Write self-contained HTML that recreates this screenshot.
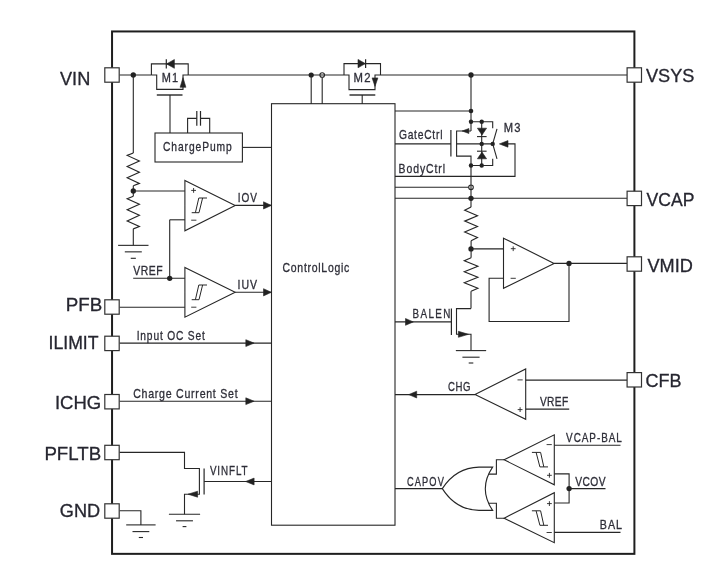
<!DOCTYPE html>
<html><head><meta charset="utf-8"><style>
html,body{margin:0;padding:0;background:#fff;}
body{width:708px;height:572px;overflow:hidden;}
svg{display:block;font-family:"Liberation Sans",sans-serif;will-change:transform;}
</style></head><body>
<svg width="708" height="572" viewBox="0 0 708 572">
<rect x="112.05" y="31.45" width="522.35" height="522.4" fill="none" stroke="#1e1e1e" stroke-width="2"/>
<path d="M119.50,75.00 L151.40,75.00" stroke="#262626" stroke-width="1.1" fill="none"/>
<circle cx="133.3" cy="75" r="2.65" fill="#222"/>
<path d="M133.30,75.00 L133.30,153.00" stroke="#262626" stroke-width="1.1" fill="none"/>
<path d="M133.30,153.00 L127.20,155.40 L139.40,161.00 L127.20,166.60 L139.40,172.20 L127.20,177.80 L139.40,183.40 L133.30,185.80" stroke="#262626" stroke-width="1.15" fill="none"/>
<path d="M133.30,185.80 L133.30,196.30" stroke="#262626" stroke-width="1.1" fill="none"/>
<path d="M133.30,196.30 L127.20,198.70 L139.40,204.25 L127.20,209.80 L139.40,215.35 L127.20,220.90 L139.40,226.45 L133.30,228.85" stroke="#262626" stroke-width="1.15" fill="none"/>
<path d="M133.30,228.85 L133.30,245.35" stroke="#262626" stroke-width="1.1" fill="none"/>
<circle cx="133.3" cy="191" r="2.65" fill="#222"/>
<path d="M118.10,245.35 L148.50,245.35" stroke="#262626" stroke-width="1.1" fill="none"/>
<path d="M124.80,251.85 L141.80,251.85" stroke="#262626" stroke-width="1.1" fill="none"/>
<path d="M130.75,258.30 L135.85,258.30" stroke="#262626" stroke-width="1.1" fill="none"/>
<path d="M151.40,75.00 L151.40,63.90 L188.20,63.90 L188.20,75.00" stroke="#262626" stroke-width="1.1" fill="none"/>
<path d="M151.40,75.00 L156.70,75.00 L156.70,89.40 L183.00,89.40 L183.00,75.00 L188.20,75.00" stroke="#262626" stroke-width="1.1" fill="none"/>
<path d="M183.00,77.60 L180.10,87.30 L185.90,87.30Z" stroke="#262626" stroke-width="0.6" fill="#222" stroke-linejoin="miter"/>
<path d="M156.80,95.00 L182.50,95.00" stroke="#262626" stroke-width="1.4" fill="none"/>
<path d="M170.00,95.00 L170.00,133.00" stroke="#262626" stroke-width="1.1" fill="none"/>
<path d="M166.60,63.90 L174.40,59.50 L174.40,68.30Z" stroke="#262626" stroke-width="0.6" fill="#222" stroke-linejoin="miter"/>
<path d="M166.30,59.20 L166.30,68.60" stroke="#262626" stroke-width="1.2" fill="none"/>
<text transform="scale(0.899,1)" x="179.98" y="81.70" font-size="12.2" textLength="18.18" lengthAdjust="spacing" fill="#2e2e38" stroke="#2e2e38" stroke-width="0.3">M1</text>
<path d="M188.20,75.00 L344.00,75.00" stroke="#262626" stroke-width="1.1" fill="none"/>
<circle cx="311.2" cy="75" r="2.6" fill="#222"/>
<circle cx="322.2" cy="75" r="2.3" fill="none" stroke="#262626" stroke-width="1.1"/>
<path d="M311.20,75.00 L311.20,104.00" stroke="#262626" stroke-width="1.1" fill="none"/>
<path d="M322.20,77.30 L322.20,104.00" stroke="#262626" stroke-width="1.1" fill="none"/>
<rect x="155" y="133" width="87.4" height="29" fill="none" stroke="#262626" stroke-width="1.1"/>
<path d="M187.60,133.00 L187.60,118.40 L196.80,118.40" stroke="#262626" stroke-width="1.1" fill="none"/>
<path d="M196.80,111.00 L196.80,125.70" stroke="#262626" stroke-width="1.2" fill="none"/>
<path d="M200.50,111.00 L200.50,125.70" stroke="#262626" stroke-width="1.2" fill="none"/>
<path d="M200.50,118.40 L209.70,118.40 L209.70,133.00" stroke="#262626" stroke-width="1.1" fill="none"/>
<path d="M242.40,147.40 L271.50,147.40" stroke="#262626" stroke-width="1.1" fill="none"/>
<text transform="scale(0.842,1)" x="193.47" y="150.90" font-size="12.2" textLength="81.78" lengthAdjust="spacing" fill="#2e2e38" stroke="#2e2e38" stroke-width="0.3">ChargePump</text>
<rect x="271.5" y="103.7" width="123.5" height="421.5" fill="none" stroke="#262626" stroke-width="1.1"/>
<text transform="scale(0.858,1)" x="329.25" y="272.00" font-size="12.2" textLength="77.90" lengthAdjust="spacing" fill="#2e2e38" stroke="#2e2e38" stroke-width="0.3">ControlLogic</text>
<path d="M344.00,75.00 L344.00,63.60 L380.50,63.60 L380.50,75.00" stroke="#262626" stroke-width="1.1" fill="none"/>
<path d="M344.00,75.00 L349.00,75.00 L349.00,89.60 L375.00,89.60 L375.00,75.00 L380.50,75.00 L627.00,75.00" stroke="#262626" stroke-width="1.1" fill="none"/>
<path d="M375.00,86.40 L372.10,77.90 L377.90,77.90Z" stroke="#262626" stroke-width="0.6" fill="#222" stroke-linejoin="miter"/>
<path d="M365.30,63.60 L358.00,59.40 L358.00,67.80Z" stroke="#262626" stroke-width="0.6" fill="#222" stroke-linejoin="miter"/>
<path d="M365.60,59.20 L365.60,68.00" stroke="#262626" stroke-width="1.2" fill="none"/>
<path d="M349.50,95.00 L375.30,95.00" stroke="#262626" stroke-width="1.4" fill="none"/>
<path d="M362.20,95.00 L362.20,104.00" stroke="#262626" stroke-width="1.1" fill="none"/>
<text transform="scale(0.929,1)" x="380.62" y="82.00" font-size="12.2" textLength="18.25" lengthAdjust="spacing" fill="#2e2e38" stroke="#2e2e38" stroke-width="0.3">M2</text>
<circle cx="471" cy="75" r="2.65" fill="#222"/>
<path d="M471.00,75.00 L471.00,131.00" stroke="#262626" stroke-width="1.1" fill="none"/>
<circle cx="471" cy="111" r="2.3" fill="#222"/>
<circle cx="471" cy="121.8" r="2.2" fill="#222"/>
<path d="M395.00,111.00 L471.00,111.00" stroke="#262626" stroke-width="1.1" fill="none"/>
<path d="M471.00,121.80 L492.70,121.80 L492.70,128.20" stroke="#262626" stroke-width="1.1" fill="none"/>
<circle cx="481.7" cy="121.8" r="2.2" fill="#222"/>
<path d="M471.00,131.00 L456.60,131.00 L456.60,156.10 L471.00,156.10 L471.00,184.80" stroke="#262626" stroke-width="1.1" fill="none"/>
<path d="M462.10,131.00 L468.90,128.50 L468.90,133.50Z" stroke="#262626" stroke-width="0.6" fill="#222" stroke-linejoin="miter"/>
<path d="M450.90,130.00 L450.90,156.40" stroke="#262626" stroke-width="1.2" fill="none"/>
<path d="M395.00,143.90 L450.90,143.90" stroke="#262626" stroke-width="1.1" fill="none"/>
<path d="M456.60,143.90 L492.70,143.90" stroke="#262626" stroke-width="1.1" fill="none"/>
<circle cx="481.7" cy="143.9" r="2.2" fill="#222"/>
<circle cx="492.7" cy="143.9" r="2.2" fill="#222"/>
<path d="M481.70,121.80 L481.70,165.50" stroke="#262626" stroke-width="1.1" fill="none"/>
<path d="M477.40,128.20 L486.60,128.20 L482.00,135.00Z" stroke="#262626" stroke-width="0.6" fill="#222" stroke-linejoin="miter"/>
<path d="M477.00,136.60 L486.60,136.60" stroke="#262626" stroke-width="1.1" fill="none"/>
<path d="M477.40,158.80 L486.60,158.80 L482.00,152.10Z" stroke="#262626" stroke-width="0.6" fill="#222" stroke-linejoin="miter"/>
<path d="M477.00,151.20 L486.60,151.20" stroke="#262626" stroke-width="1.1" fill="none"/>
<circle cx="481.7" cy="165.5" r="2.2" fill="#222"/>
<circle cx="471" cy="165.5" r="2.2" fill="#222"/>
<path d="M471.00,165.50 L492.70,165.50 L492.70,158.80" stroke="#262626" stroke-width="1.1" fill="none"/>
<path d="M492.70,143.90 L497.00,128.90" stroke="#262626" stroke-width="1.1" fill="none"/>
<path d="M492.70,143.90 L497.00,158.80" stroke="#262626" stroke-width="1.1" fill="none"/>
<path d="M499.40,143.90 L508.00,140.60 L508.00,147.20Z" stroke="#262626" stroke-width="0.6" fill="#222" stroke-linejoin="miter"/>
<path d="M508.00,143.90 L515.00,143.90 L515.00,176.40 L395.00,176.40" stroke="#262626" stroke-width="1.1" fill="none"/>
<text transform="scale(0.917,1)" x="549.29" y="132.20" font-size="12.2" textLength="18.35" lengthAdjust="spacing" fill="#2e2e38" stroke="#2e2e38" stroke-width="0.3">M3</text>
<text transform="scale(0.843,1)" x="473.19" y="139.40" font-size="12.2" textLength="51.66" lengthAdjust="spacing" fill="#2e2e38" stroke="#2e2e38" stroke-width="0.3">GateCtrl</text>
<text transform="scale(0.856,1)" x="465.54" y="172.70" font-size="12.2" textLength="54.42" lengthAdjust="spacing" fill="#2e2e38" stroke="#2e2e38" stroke-width="0.3">BodyCtrl</text>
<circle cx="471" cy="187.3" r="2.3" fill="none" stroke="#262626" stroke-width="1.1"/>
<path d="M395.00,187.30 L468.70,187.30" stroke="#262626" stroke-width="1.1" fill="none"/>
<path d="M471.00,184.80 L471.00,207.00" stroke="#262626" stroke-width="1.1" fill="none"/>
<path d="M395.00,198.30 L627.00,198.30" stroke="#262626" stroke-width="1.1" fill="none"/>
<circle cx="471" cy="198.3" r="2.65" fill="#222"/>
<path d="M471.10,207.00 L464.70,210.20 L477.50,215.66 L464.70,221.12 L477.50,226.58 L464.70,232.04 L477.50,237.50 L471.10,240.70" stroke="#262626" stroke-width="1.15" fill="none"/>
<path d="M471.10,240.70 L471.10,257.70" stroke="#262626" stroke-width="1.1" fill="none"/>
<circle cx="471" cy="248.9" r="2.65" fill="#222"/>
<path d="M471.10,257.70 L464.30,260.70 L477.90,266.20 L464.30,271.70 L477.90,277.20 L464.30,282.70 L477.90,288.20 L471.10,291.20" stroke="#262626" stroke-width="1.15" fill="none"/>
<path d="M471.00,291.20 L471.00,308.60" stroke="#262626" stroke-width="1.1" fill="none"/>
<path d="M471.00,248.90 L503.50,248.90" stroke="#262626" stroke-width="1.1" fill="none"/>
<path d="M503.50,238.20 L554.10,263.40 L503.50,288.30Z" stroke="#262626" stroke-width="1.1" fill="none" stroke-linejoin="miter"/>
<path d="M554.10,263.40 L627.00,263.40" stroke="#262626" stroke-width="1.1" fill="none"/>
<circle cx="569" cy="263.4" r="2.65" fill="#222"/>
<path d="M569.00,263.40 L569.00,321.50 L489.10,321.50 L489.10,278.30 L503.50,278.30" stroke="#262626" stroke-width="1.1" fill="none"/>
<path d="M510.80,248.70 L515.60,248.70" stroke="#262626" stroke-width="0.9" fill="none"/>
<path d="M513.20,246.30 L513.20,251.10" stroke="#262626" stroke-width="0.9" fill="none"/>
<path d="M510.60,278.30 L515.80,278.30" stroke="#262626" stroke-width="0.9" fill="none"/>
<path d="M471.00,308.60 L456.50,308.60 L456.50,334.30 L471.00,334.30 L471.00,350.60" stroke="#262626" stroke-width="1.1" fill="none"/>
<path d="M468.50,334.30 L458.40,331.30 L458.40,337.30Z" stroke="#262626" stroke-width="0.6" fill="#222" stroke-linejoin="miter"/>
<path d="M451.40,308.60 L451.40,335.10" stroke="#262626" stroke-width="1.2" fill="none"/>
<path d="M395.00,321.90 L451.40,321.90" stroke="#262626" stroke-width="1.1" fill="none"/>
<path d="M413.30,321.90 L405.50,318.50 L405.50,325.30Z" stroke="#262626" stroke-width="0.6" fill="#222" stroke-linejoin="miter"/>
<path d="M455.85,350.60 L486.15,350.60" stroke="#262626" stroke-width="1.1" fill="none"/>
<path d="M462.40,357.20 L479.60,357.20" stroke="#262626" stroke-width="1.1" fill="none"/>
<path d="M468.70,363.00 L473.30,363.00" stroke="#262626" stroke-width="1.1" fill="none"/>
<text transform="scale(0.807,1)" x="511.28" y="317.70" font-size="12.2" textLength="46.81" lengthAdjust="spacing" fill="#2e2e38" stroke="#2e2e38" stroke-width="0.3">BALEN</text>
<path d="M475.00,394.60 L525.70,368.90 L525.70,419.30Z" stroke="#262626" stroke-width="1.1" fill="none" stroke-linejoin="miter"/>
<path d="M395.00,394.60 L475.00,394.60" stroke="#262626" stroke-width="1.1" fill="none"/>
<path d="M408.80,394.60 L416.70,391.20 L416.70,398.00Z" stroke="#262626" stroke-width="0.6" fill="#222" stroke-linejoin="miter"/>
<path d="M525.70,380.10 L627.00,380.10" stroke="#262626" stroke-width="1.1" fill="none"/>
<path d="M525.70,409.10 L569.20,409.10" stroke="#262626" stroke-width="1.1" fill="none"/>
<path d="M517.50,379.90 L522.70,379.90" stroke="#262626" stroke-width="0.9" fill="none"/>
<path d="M517.70,409.60 L522.50,409.60" stroke="#262626" stroke-width="0.9" fill="none"/>
<path d="M520.10,407.20 L520.10,412.00" stroke="#262626" stroke-width="0.9" fill="none"/>
<text transform="scale(0.786,1)" x="569.85" y="390.60" font-size="12.2" textLength="28.58" lengthAdjust="spacing" fill="#2e2e38" stroke="#2e2e38" stroke-width="0.3">CHG</text>
<text transform="scale(0.833,1)" x="648.14" y="405.80" font-size="12.2" textLength="33.89" lengthAdjust="spacing" fill="#2e2e38" stroke="#2e2e38" stroke-width="0.3">VREF</text>
<path d="M395.00,488.60 L442.30,488.60" stroke="#262626" stroke-width="1.1" fill="none"/>
<path d="M442.3,488.6 Q456,467.5 479,467.1 L492.6,467.1 Q478,488.6 492.6,510.4 L479,510.4 Q456,510 442.3,488.6 Z" fill="none" stroke="#262626" stroke-width="1.1"/>
<path d="M488.70,474.10 L496.40,474.10 L496.40,459.80 L504.10,459.80" stroke="#262626" stroke-width="1.1" fill="none"/>
<path d="M488.70,503.30 L496.40,503.30 L496.40,518.20 L504.10,518.20" stroke="#262626" stroke-width="1.1" fill="none"/>
<path d="M504.10,459.80 L554.30,434.80 L554.30,484.80Z" stroke="#262626" stroke-width="1.1" fill="none" stroke-linejoin="miter"/>
<path d="M504.10,518.20 L554.30,492.70 L554.30,542.70Z" stroke="#262626" stroke-width="1.1" fill="none" stroke-linejoin="miter"/>
<path d="M554.30,445.20 L620.50,445.20" stroke="#262626" stroke-width="1.1" fill="none"/>
<path d="M554.30,473.90 L569.10,473.90 L569.10,503.00 L554.30,503.00" stroke="#262626" stroke-width="1.1" fill="none"/>
<circle cx="569.1" cy="488.6" r="2.65" fill="#222"/>
<path d="M569.10,488.60 L605.50,488.60" stroke="#262626" stroke-width="1.1" fill="none"/>
<path d="M554.30,532.40 L620.50,532.40" stroke="#262626" stroke-width="1.1" fill="none"/>
<path d="M546.60,444.60 L551.80,444.60" stroke="#262626" stroke-width="0.9" fill="none"/>
<path d="M547.00,475.30 L551.80,475.30" stroke="#262626" stroke-width="0.9" fill="none"/>
<path d="M549.40,472.90 L549.40,477.70" stroke="#262626" stroke-width="0.9" fill="none"/>
<path d="M547.00,503.60 L551.80,503.60" stroke="#262626" stroke-width="0.9" fill="none"/>
<path d="M549.40,501.20 L549.40,506.00" stroke="#262626" stroke-width="0.9" fill="none"/>
<path d="M546.60,532.50 L551.80,532.50" stroke="#262626" stroke-width="0.9" fill="none"/>
<path d="M531.90,452.40 L540.60,452.40" stroke="#262626" stroke-width="1.0" fill="none"/>
<path d="M536.10,452.40 L539.90,466.90" stroke="#262626" stroke-width="1.0" fill="none"/>
<path d="M540.60,452.40 L543.80,466.90" stroke="#262626" stroke-width="1.0" fill="none"/>
<path d="M539.90,466.90 L548.00,466.90" stroke="#262626" stroke-width="1.0" fill="none"/>
<path d="M531.90,510.80 L540.60,510.80" stroke="#262626" stroke-width="1.0" fill="none"/>
<path d="M536.10,510.80 L539.90,525.30" stroke="#262626" stroke-width="1.0" fill="none"/>
<path d="M540.60,510.80 L543.80,525.30" stroke="#262626" stroke-width="1.0" fill="none"/>
<path d="M539.90,525.30 L548.00,525.30" stroke="#262626" stroke-width="1.0" fill="none"/>
<text transform="scale(0.758,1)" x="536.94" y="486.10" font-size="12.2" textLength="48.61" lengthAdjust="spacing" fill="#2e2e38" stroke="#2e2e38" stroke-width="0.3">CAPOV</text>
<text transform="scale(0.813,1)" x="696.31" y="442.00" font-size="12.2" textLength="68.56" lengthAdjust="spacing" fill="#2e2e38" stroke="#2e2e38" stroke-width="0.3">VCAP-BAL</text>
<text transform="scale(0.841,1)" x="683.95" y="485.90" font-size="12.2" textLength="36.15" lengthAdjust="spacing" fill="#2e2e38" stroke="#2e2e38" stroke-width="0.3">VCOV</text>
<text transform="scale(0.877,1)" x="683.81" y="528.60" font-size="12.2" textLength="25.52" lengthAdjust="spacing" fill="#2e2e38" stroke="#2e2e38" stroke-width="0.3">BAL</text>
<path d="M184.90,180.50 L235.20,205.40 L184.90,230.80Z" stroke="#262626" stroke-width="1.1" fill="none" stroke-linejoin="miter"/>
<path d="M133.30,191.00 L184.90,191.00" stroke="#262626" stroke-width="1.1" fill="none"/>
<path d="M169.70,219.80 L184.90,219.80" stroke="#262626" stroke-width="1.1" fill="none"/>
<path d="M169.70,219.80 L169.70,278.30" stroke="#262626" stroke-width="1.1" fill="none"/>
<path d="M235.20,205.40 L271.50,205.40" stroke="#262626" stroke-width="1.1" fill="none"/>
<path d="M271.30,205.40 L263.50,201.80 L263.50,209.00Z" stroke="#262626" stroke-width="0.6" fill="#222" stroke-linejoin="miter"/>
<path d="M191.20,190.40 L196.00,190.40" stroke="#262626" stroke-width="0.9" fill="none"/>
<path d="M193.60,188.00 L193.60,192.80" stroke="#262626" stroke-width="0.9" fill="none"/>
<path d="M191.20,220.20 L196.40,220.20" stroke="#262626" stroke-width="0.9" fill="none"/>
<path d="M191.70,212.70 L199.00,212.70" stroke="#262626" stroke-width="1.0" fill="none"/>
<path d="M195.40,212.70 L198.80,198.00" stroke="#262626" stroke-width="1.0" fill="none"/>
<path d="M199.00,212.70 L202.60,198.00" stroke="#262626" stroke-width="1.0" fill="none"/>
<path d="M198.80,198.00 L207.00,198.00" stroke="#262626" stroke-width="1.0" fill="none"/>
<path d="M184.90,267.50 L235.20,292.30 L184.90,317.20Z" stroke="#262626" stroke-width="1.1" fill="none" stroke-linejoin="miter"/>
<path d="M133.20,278.30 L184.90,278.30" stroke="#262626" stroke-width="1.1" fill="none"/>
<circle cx="169.7" cy="278.3" r="2.65" fill="#222"/>
<path d="M119.50,307.30 L184.90,307.30" stroke="#262626" stroke-width="1.1" fill="none"/>
<path d="M235.20,292.30 L271.50,292.30" stroke="#262626" stroke-width="1.1" fill="none"/>
<path d="M271.30,292.30 L263.50,288.70 L263.50,295.90Z" stroke="#262626" stroke-width="0.6" fill="#222" stroke-linejoin="miter"/>
<path d="M191.20,307.20 L196.40,307.20" stroke="#262626" stroke-width="0.9" fill="none"/>
<path d="M191.70,299.70 L199.00,299.70" stroke="#262626" stroke-width="1.0" fill="none"/>
<path d="M195.40,299.70 L198.80,285.00" stroke="#262626" stroke-width="1.0" fill="none"/>
<path d="M199.00,299.70 L202.60,285.00" stroke="#262626" stroke-width="1.0" fill="none"/>
<path d="M198.80,285.00 L207.00,285.00" stroke="#262626" stroke-width="1.0" fill="none"/>
<text transform="scale(0.823,1)" x="288.94" y="202.10" font-size="12.2" textLength="23.30" lengthAdjust="spacing" fill="#2e2e38" stroke="#2e2e38" stroke-width="0.3">IOV</text>
<text transform="scale(0.865,1)" x="274.68" y="288.60" font-size="12.2" textLength="22.47" lengthAdjust="spacing" fill="#2e2e38" stroke="#2e2e38" stroke-width="0.3">IUV</text>
<text transform="scale(0.854,1)" x="155.97" y="275.30" font-size="12.2" textLength="34.45" lengthAdjust="spacing" fill="#2e2e38" stroke="#2e2e38" stroke-width="0.3">VREF</text>
<path d="M119.50,343.10 L271.50,343.10" stroke="#262626" stroke-width="1.1" fill="none"/>
<path d="M254.10,343.10 L245.80,339.70 L245.80,346.50Z" stroke="#262626" stroke-width="0.6" fill="#222" stroke-linejoin="miter"/>
<path d="M119.50,401.20 L271.50,401.20" stroke="#262626" stroke-width="1.1" fill="none"/>
<path d="M254.10,401.20 L245.80,397.80 L245.80,404.60Z" stroke="#262626" stroke-width="0.6" fill="#222" stroke-linejoin="miter"/>
<text transform="scale(0.838,1)" x="163.13" y="339.70" font-size="12.2" textLength="81.36" lengthAdjust="spacing" fill="#2e2e38" stroke="#2e2e38" stroke-width="0.3">Input OC Set</text>
<text transform="scale(0.868,1)" x="153.46" y="397.80" font-size="12.2" textLength="120.29" lengthAdjust="spacing" fill="#2e2e38" stroke="#2e2e38" stroke-width="0.3">Charge Current Set</text>
<path d="M119.50,452.40 L184.50,452.40 L184.50,468.50 L199.40,468.50 L199.40,494.20 L184.50,494.20 L184.50,514.30" stroke="#262626" stroke-width="1.1" fill="none"/>
<path d="M188.00,494.20 L197.60,491.20 L197.60,497.20Z" stroke="#262626" stroke-width="0.6" fill="#222" stroke-linejoin="miter"/>
<path d="M204.10,468.50 L204.10,494.60" stroke="#262626" stroke-width="1.2" fill="none"/>
<path d="M204.10,481.50 L271.50,481.50" stroke="#262626" stroke-width="1.1" fill="none"/>
<path d="M245.70,481.50 L254.10,478.10 L254.10,484.90Z" stroke="#262626" stroke-width="0.6" fill="#222" stroke-linejoin="miter"/>
<path d="M168.90,514.30 L200.10,514.30" stroke="#262626" stroke-width="1.1" fill="none"/>
<path d="M176.05,520.80 L192.95,520.80" stroke="#262626" stroke-width="1.1" fill="none"/>
<path d="M182.60,526.60 L186.40,526.60" stroke="#262626" stroke-width="1.1" fill="none"/>
<text transform="scale(0.805,1)" x="260.75" y="474.60" font-size="12.2" textLength="46.75" lengthAdjust="spacing" fill="#2e2e38" stroke="#2e2e38" stroke-width="0.3">VINFLT</text>
<path d="M119.50,510.80 L140.90,510.80 L140.90,524.90" stroke="#262626" stroke-width="1.1" fill="none"/>
<path d="M126.20,524.90 L155.60,524.90" stroke="#262626" stroke-width="1.1" fill="none"/>
<path d="M132.50,531.60 L149.30,531.60" stroke="#262626" stroke-width="1.1" fill="none"/>
<path d="M138.80,537.50 L143.00,537.50" stroke="#262626" stroke-width="1.1" fill="none"/>
<rect x="104.80" y="67.80" width="14.4" height="14.4" fill="#fff" stroke="#333" stroke-width="1.2"/>
<rect x="104.80" y="299.80" width="14.4" height="14.4" fill="#fff" stroke="#333" stroke-width="1.2"/>
<rect x="104.80" y="336.20" width="14.4" height="14.4" fill="#fff" stroke="#333" stroke-width="1.2"/>
<rect x="104.80" y="394.50" width="14.4" height="14.4" fill="#fff" stroke="#333" stroke-width="1.2"/>
<rect x="104.80" y="445.30" width="14.4" height="14.4" fill="#fff" stroke="#333" stroke-width="1.2"/>
<rect x="104.80" y="503.80" width="14.4" height="14.4" fill="#fff" stroke="#333" stroke-width="1.2"/>
<rect x="627.10" y="67.80" width="14.4" height="14.4" fill="#fff" stroke="#333" stroke-width="1.2"/>
<rect x="627.10" y="191.20" width="14.4" height="14.4" fill="#fff" stroke="#333" stroke-width="1.2"/>
<rect x="627.10" y="256.80" width="14.4" height="14.4" fill="#fff" stroke="#333" stroke-width="1.2"/>
<rect x="627.10" y="372.60" width="14.4" height="14.4" fill="#fff" stroke="#333" stroke-width="1.2"/>
<text x="60.00" y="84.60" font-size="18.2" textLength="30.27" lengthAdjust="spacingAndGlyphs" fill="#262630" stroke="#262630" stroke-width="0.3">VIN</text>
<text x="65.70" y="311.00" font-size="18.2" textLength="36.48" lengthAdjust="spacingAndGlyphs" fill="#262630" stroke="#262630" stroke-width="0.3">PFB</text>
<text x="48.50" y="348.50" font-size="18.2" textLength="50.06" lengthAdjust="spacingAndGlyphs" fill="#262630" stroke="#262630" stroke-width="0.3">ILIMIT</text>
<text x="54.90" y="408.70" font-size="18.2" textLength="46.29" lengthAdjust="spacingAndGlyphs" fill="#262630" stroke="#262630" stroke-width="0.3">ICHG</text>
<text x="44.40" y="459.60" font-size="18.2" textLength="56.72" lengthAdjust="spacingAndGlyphs" fill="#262630" stroke="#262630" stroke-width="0.3">PFLTB</text>
<text x="59.80" y="517.20" font-size="18.2" textLength="40.31" lengthAdjust="spacingAndGlyphs" fill="#262630" stroke="#262630" stroke-width="0.3">GND</text>
<text x="645.90" y="81.60" font-size="18.2" textLength="48.54" lengthAdjust="spacingAndGlyphs" fill="#262630" stroke="#262630" stroke-width="0.3">VSYS</text>
<text x="646.60" y="205.70" font-size="18.2" textLength="47.86" lengthAdjust="spacingAndGlyphs" fill="#262630" stroke="#262630" stroke-width="0.3">VCAP</text>
<text x="647.40" y="271.60" font-size="18.2" textLength="45.40" lengthAdjust="spacingAndGlyphs" fill="#262630" stroke="#262630" stroke-width="0.3">VMID</text>
<text x="645.60" y="386.80" font-size="18.2" textLength="36.03" lengthAdjust="spacingAndGlyphs" fill="#262630" stroke="#262630" stroke-width="0.3">CFB</text>
</svg>
</body></html>
